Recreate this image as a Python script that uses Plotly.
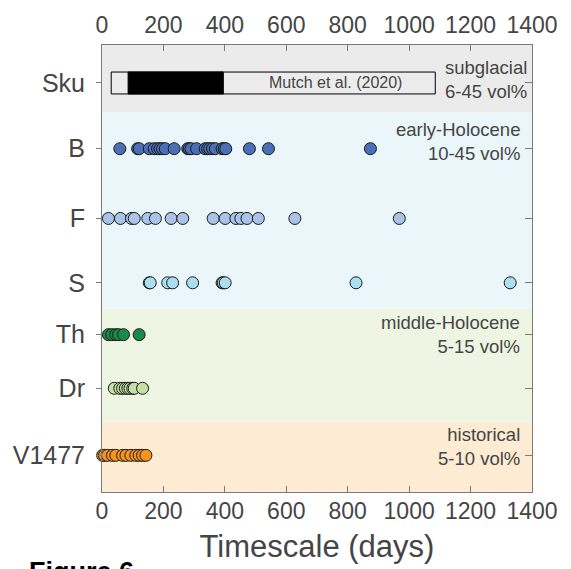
import plotly.graph_objects as go

# ---------------- data ----------------
rows = ["Sku", "B", "F", "S", "Th", "Dr", "V1477"]
row_pos = [9.15, 7.68, 6.12, 4.68, 3.52, 2.32, 0.82]

B_days = [58, 116, 121, 154, 170, 181, 189, 197, 206, 235, 279, 284, 290, 308,
          336, 344, 351, 360, 369, 391, 398, 403, 480, 542, 874]
F_days = [21, 60, 96, 105, 149, 174, 225, 263, 362, 401, 436, 452, 472, 509, 628, 968]
S_days = [154, 157, 214, 230, 295, 391, 395, 401, 827, 1329]
Th_days = [21, 32, 45, 54, 70, 121]
Dr_days = [40, 58, 67, 76, 84, 91, 100, 105, 132]
V1477_days = [2, 8, 18, 34, 45, 67, 78, 94, 110, 121, 132, 143]

series_colors = ["#4a6fb6", "#a9c4e8", "#a9dff1", "#1b8a48", "#c4e0a4", "#f7941e"]

sku_box = [30, 1085]      # Mutch et al. (2020) range box
sku_black = [85, 395]     # filled part

bands = [  # (bottom, top, colour, label)
    (8.49, 10.0, "#ebebeb", "subglacial<br>6-45 vol%"),
    (4.10, 8.49, "#eaf6f9", "early-Holocene<br>10-45 vol%"),
    (1.56, 4.10, "#eef5e3", "middle-Holocene<br>5-15 vol%"),
    (0.0, 1.56, "#fdebd3", "historical<br>5-10 vol%"),
]
band_label_y = [9.22, 7.84, 3.53, 1.02]

xticks = [0, 200, 400, 600, 800, 1000, 1200, 1400]

FONT = "Liberation Sans"
TXT = "#454545"
AX = "#7a7a7a"

fig = go.Figure()

shapes = []
for (y0, y1, col, _) in bands:
    shapes.append(dict(type="rect", xref="paper", yref="y", x0=0, x1=1, y0=y0, y1=y1,
                       fillcolor=col, line=dict(width=0), layer="below"))
sku_y = row_pos[0]
shapes.append(dict(type="rect", xref="x", yref="y", x0=sku_box[0], x1=sku_box[1],
                   y0=sku_y - 0.245, y1=sku_y + 0.245, fillcolor="#ececec",
                   line=dict(color="black", width=1), layer="above"))
shapes.append(dict(type="rect", xref="x", yref="y", x0=sku_black[0], x1=sku_black[1],
                   y0=sku_y - 0.245, y1=sku_y + 0.245, fillcolor="black",
                   line=dict(color="black", width=1), layer="above"))

all_days = [B_days, F_days, S_days, Th_days, Dr_days, V1477_days]
for name, ypos, days, col in zip(rows[1:], row_pos[1:], all_days, series_colors):
    fig.add_trace(go.Scatter(
        x=days, y=[ypos] * len(days), mode="markers", name=name,
        marker=dict(size=12, color=col, line=dict(color="#1a1a1a", width=1)),
        showlegend=False, cliponaxis=False))

# helper invisible traces for the secondary axes
fig.add_trace(go.Scatter(x=[0], y=[0], xaxis="x2", yaxis="y", mode="markers",
                         marker=dict(opacity=0), showlegend=False, hoverinfo="skip"))
fig.add_trace(go.Scatter(x=[0], y=[0], xaxis="x", yaxis="y2", mode="markers",
                         marker=dict(opacity=0), showlegend=False, hoverinfo="skip"))

annotations = []
for (y0, y1, col, label), ly, xr in zip(bands, band_label_y, [0.992, 0.977, 0.977, 0.977]):
    annotations.append(dict(text=label, xref="paper", yref="y", x=xr, y=ly,
                            xanchor="right", yanchor="middle", align="right",
                            showarrow=False, font=dict(family=FONT, size=18.5, color=TXT)))
annotations.append(dict(text="Mutch et al. (2020)", xref="x", yref="y",
                        x=(sku_black[1] + sku_box[1]) / 2 + 20, y=sku_y,
                        showarrow=False, font=dict(family=FONT, size=16, color=TXT)))
annotations.append(dict(text="<b>Figure 6</b>", xref="paper", yref="paper",
                        x=-0.174, y=-0.142, xanchor="left", yanchor="top",
                        showarrow=False, font=dict(family=FONT, size=27, color="black")))

fig.update_layout(
    width=571, height=569,
    margin=dict(l=102, r=39, t=44, b=76),
    paper_bgcolor="white", plot_bgcolor="white",
    shapes=shapes, annotations=annotations,
    xaxis=dict(range=[0, 1400], tickvals=xticks, ticktext=[str(t) for t in xticks],
               ticks="inside", ticklen=6, tickcolor=AX, showline=True, linecolor=AX,
               linewidth=1, mirror="ticks", showgrid=False, zeroline=False,
               tickfont=dict(family=FONT, size=23, color=TXT), ticklabelstandoff=-2,
               title=dict(text="Timescale (days)", standoff=12,
                          font=dict(family=FONT, size=31, color=TXT))),
    xaxis2=dict(range=[0, 1400], overlaying="x", side="top", matches="x",
                tickvals=xticks, ticktext=[str(t) for t in xticks], ticks="",
                showline=False, showgrid=False, zeroline=False,
                tickfont=dict(family=FONT, size=23, color=TXT), ticklabelstandoff=6),
    yaxis=dict(range=[0, 10], tickvals=row_pos, ticktext=rows, ticks="outside",
               ticklen=5, tickcolor=AX, showline=True, linecolor=AX, linewidth=1,
               mirror=True, showgrid=False, zeroline=False,
               tickfont=dict(family=FONT, size=25, color=TXT), ticklabelstandoff=6),
    yaxis2=dict(range=[0, 10], overlaying="y", side="right", matches="y",
                tickvals=row_pos, ticks="inside", ticklen=7, tickcolor=AX,
                showticklabels=False, showline=False, showgrid=False, zeroline=False),
)

fig.write_html("out.html")
